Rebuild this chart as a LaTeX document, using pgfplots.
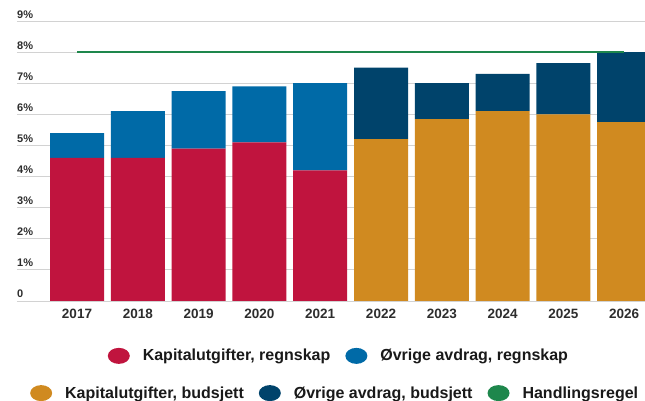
\documentclass[border=0pt]{standalone}
\usepackage{fontspec}
\setmainfont{Liberation Sans}
\usepackage{pgfplots}
\pgfplotsset{compat=1.18}

\definecolor{kred}{RGB}{192,20,62}
\definecolor{kblue}{RGB}{0,106,167}
\definecolor{korange}{RGB}{208,138,32}
\definecolor{knavy}{RGB}{0,67,107}
\definecolor{kgreen}{RGB}{30,135,76}
\definecolor{gridgray}{RGB}{210,210,210}
\definecolor{labelgray}{RGB}{45,45,45}

\pgfplotsset{
  kbase/.style={
    scale only axis,
    width=628pt, height=280pt,
    at={(17pt,100pt)}, anchor=south west,
    xmin=-0.987, xmax=9.342,
    ymin=0, ymax=9,
  },
  klegend/.style={
    legend columns=-1,
    legend image code/.code={\fill[##1, draw=none] (11pt,0pt) ellipse (11pt and 8pt);},
    legend style={draw=none, fill=none, inner sep=0pt,
      font=\bfseries\fontsize{16}{18}\selectfont, text=black!90,
      nodes={inner sep=0pt},
      /tikz/every odd column/.append style={column sep=13pt},
      /tikz/every even column/.append style={column sep=15pt}},
  },
}

\begin{document}
\begin{tikzpicture}
\useasboundingbox (0,0) rectangle (645pt,401pt);
\begin{axis}[
  kbase,
  ybar stacked,
  bar width=54pt,
  axis line style={draw=none},
  tick style={draw=none},
  ymajorgrids,
  major grid style={gridgray, line width=0.8pt},
  xtick={0,...,9},
  xticklabels={2017,2018,2019,2020,2021,2022,2023,2024,2025,2026},
  xticklabel style={inner sep=0pt, anchor=north, yshift=-8pt,
    font=\bfseries\fontsize{13.5}{16}\selectfont, text=labelgray},
  ytick={0,...,9},
  yticklabels={0,1\%,2\%,3\%,4\%,5\%,6\%,7\%,8\%,9\%},
  yticklabel style={inner sep=0pt, anchor=base west, xshift=0pt, yshift=3pt,
    font=\bfseries\fontsize{11}{13}\selectfont, text=labelgray},
  klegend,
  legend style={at={(0.505,-0.329)}, anchor=center},
]
% Kapitalutgifter, regnskap
\addplot[fill=kred, draw=none, forget plot] coordinates {
  (0,4.6) (1,4.6) (2,4.9) (3,5.1) (4,4.2) (5,0) (6,0) (7,0) (8,0) (9,0)};
% Ovrige avdrag, regnskap
\addplot[fill=kblue, draw=none, forget plot] coordinates {
  (0,0.8) (1,1.5) (2,1.85) (3,1.8) (4,2.8) (5,0) (6,0) (7,0) (8,0) (9,0)};
% Kapitalutgifter, budsjett
\addplot[fill=korange, draw=none, forget plot] coordinates {
  (0,0) (1,0) (2,0) (3,0) (4,0) (5,5.2) (6,5.85) (7,6.1) (8,6.0) (9,5.75)};
% Ovrige avdrag, budsjett
\addplot[fill=knavy, draw=none, forget plot] coordinates {
  (0,0) (1,0) (2,0) (3,0) (4,0) (5,2.3) (6,1.15) (7,1.2) (8,1.65) (9,2.25)};

\addlegendimage{fill=korange}
\addlegendentry{Kapitalutgifter, budsjett}
\addlegendimage{fill=knavy}
\addlegendentry{Øvrige avdrag, budsjett}
\addlegendimage{fill=kgreen}
\addlegendentry{Handlingsregel}
\end{axis}

% second axis: same frame, carries the rule line and the first legend row
\begin{axis}[
  kbase,
  hide axis,
  klegend,
  legend style={at={(0.511,-0.196)}, anchor=center},
]
% Handlingsregel
\addplot[sharp plot, kgreen, line width=1.8pt, forget plot] coordinates {(0,8) (9,8)};

\addlegendimage{fill=kred}
\addlegendentry{Kapitalutgifter, regnskap}
\addlegendimage{fill=kblue}
\addlegendentry{Øvrige avdrag, regnskap}
\end{axis}
\end{tikzpicture}
\end{document}
